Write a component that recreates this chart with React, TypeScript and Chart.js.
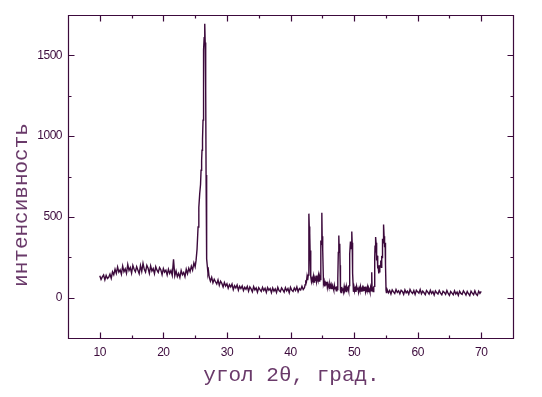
import { useEffect, useRef } from 'react';
import { Chart, registerables } from 'chart.js';

Chart.register(...registerables);

// ---- data ----
const xTickValues = [10, 20, 30, 40, 50, 60, 70];
const yTickValues = [0, 500, 1000, 1500];
const xMinorValues = [15, 25, 35, 45, 55, 65];
const yMinorValues = [250, 750, 1250];
const xTitle = 'угол 2θ, град.';
const yTitle = 'интенсивность';

const scanStep = 0.2;

// amorphous hump, 10.0° … 25.0°
const humpStart = 10.0;
const humpCounts = [
  135, 112, 128, 140, 110, 138, 118, 126, 146, 120,
  160, 142, 176, 150, 190, 158, 172, 145, 196, 160,
  178, 150, 205, 168, 186, 152, 200, 176, 160, 192,
  170, 148, 198, 162, 212, 175, 158, 200, 182, 150,
  196, 165, 180, 148, 192, 170, 156, 186, 172, 142,
  180, 158, 170, 140, 176, 150, 168, 138, 238, 135,
  165, 130, 150, 124, 168, 142, 156, 130, 176, 148,
  182, 160, 195, 170, 215, 190,
];

// main quartz reflection near 26.6°
const mainPeak: [number, number][] = [
  [25.15, 232], [25.3, 300], [25.46, 437], [25.58, 560], [25.72, 645],
  [25.85, 700], [25.93, 789], [26.02, 850], [26.08, 913], [26.16, 980],
  [26.24, 1099], [26.3, 1250], [26.35, 1534], [26.42, 1610], [26.51, 1696],
  [26.58, 1580], [26.66, 1286], [26.72, 760], [26.77, 354], [26.85, 240],
  [26.93, 188], [27.02, 150], [27.1, 165], [27.2, 128],
];

// background tail, 27.4° … 42.2°
const tailStart = 27.4;
const tailCounts = [
  102, 126, 92, 114, 98, 84, 110, 76, 102, 88,
  66, 94, 72, 86, 58, 80, 66, 84, 50, 74,
  60, 78, 46, 70, 56, 72, 44, 64, 52, 70,
  40, 66, 54, 36, 68, 48, 60, 34, 62, 50,
  38, 64, 44, 58, 32, 62, 46, 56, 30, 60,
  40, 54, 32, 64, 44, 36, 60, 48, 34, 62,
  42, 56, 30, 64, 46, 38, 60, 44, 66, 36,
  56, 48, 70, 50, 62,
];

// reflections 42.3° … 55.1°
const peakGroup: [number, number][] = [
  [42.3, 80], [42.4, 100], [42.5, 96], [42.6, 132], [42.7, 108], [42.8, 140],
  [42.89, 520], [42.95, 440], [43.0, 300], [43.05, 400], [43.1, 250], [43.15, 292],
  [43.22, 130], [43.3, 98], [43.4, 118], [43.5, 104], [43.6, 132], [43.7, 96],
  [43.8, 120], [43.9, 108], [44.0, 136], [44.1, 98], [44.2, 124], [44.3, 110],
  [44.4, 138], [44.5, 102], [44.6, 128], [44.7, 112], [44.77, 354], [44.85, 330],
  [44.93, 526], [44.98, 380], [45.03, 312], [45.1, 300], [45.19, 85], [45.3, 102],
  [45.4, 70], [45.5, 92], [45.6, 80], [45.7, 98], [45.8, 62], [45.9, 86],
  [46.0, 70], [46.1, 58], [46.2, 84], [46.3, 66], [46.4, 80], [46.5, 52],
  [46.6, 74], [46.7, 60], [46.8, 46], [46.9, 76], [47.0, 54], [47.1, 68],
  [47.2, 42], [47.3, 70], [47.4, 50], [47.44, 116], [47.52, 280], [47.6, 385],
  [47.66, 290], [47.75, 333], [47.8, 200], [47.86, 43], [47.95, 32], [48.05, 66],
  [48.15, 44], [48.25, 58], [48.35, 36], [48.45, 70], [48.55, 48], [48.65, 62],
  [48.75, 38], [48.85, 66], [48.95, 50], [49.05, 60], [49.15, 42], [49.22, 74],
  [49.27, 178], [49.35, 270], [49.43, 348], [49.5, 300], [49.57, 330], [49.64, 410],
  [49.7, 340], [49.74, 323], [49.8, 150], [49.9, 36], [50.0, 66], [50.1, 44],
  [50.2, 58], [50.3, 36], [50.4, 70], [50.5, 50], [50.6, 62], [50.7, 34],
  [50.8, 58], [50.9, 44], [51.0, 68], [51.1, 40], [51.2, 54], [51.3, 64],
  [51.4, 38], [51.5, 60], [51.6, 46], [51.7, 68], [51.8, 36], [51.9, 56],
  [52.0, 44], [52.1, 66], [52.2, 38], [52.3, 60], [52.4, 50], [52.5, 34],
  [52.6, 64], [52.7, 42], [52.78, 157], [52.84, 44], [52.9, 64], [53.0, 38],
  [53.1, 66], [53.19, 70], [53.25, 250], [53.3, 323], [53.36, 280], [53.42, 375],
  [53.46, 340], [53.52, 300], [53.58, 230], [53.64, 260], [53.72, 180], [53.78, 200],
  [53.85, 150], [53.92, 175], [53.98, 160], [54.05, 190], [54.12, 200], [54.2, 230],
  [54.29, 188], [54.35, 250], [54.4, 248], [54.45, 330], [54.5, 365], [54.56, 340],
  [54.62, 400], [54.66, 453], [54.72, 380], [54.78, 320], [54.82, 312], [54.88, 340],
  [54.92, 273], [54.97, 200], [55.03, 45], [55.1, 28],
];

// high-angle background, 55.2° … 70.0°
const highStart = 55.2;
const highCounts = [
  50, 30, 44, 22, 48, 36, 26, 50, 32, 42,
  24, 46, 38, 20, 48, 30, 40, 22, 50, 34,
  26, 44, 20, 46, 36, 28, 50, 24, 40, 30,
  18, 44, 34, 22, 46, 26, 38, 16, 42, 30,
  22, 44, 28, 18, 40, 32, 20, 44, 26, 14,
  38, 28, 18, 42, 22, 34, 14, 40, 26, 20,
  42, 30, 16, 38, 24, 12, 40, 28, 18, 42,
  22, 14, 40, 26, 38,
];

const INK = '#3c0a3c';
const TITLE_INK = '#6a3a6a';

function buildSeries() {
  const pts: { x: number; y: number }[] = [];
  const addStep = (start: number, counts: number[]) =>
    counts.forEach((c, i) => pts.push({ x: +(start + i * scanStep).toFixed(2), y: c }));
  const addPairs = (pairs: [number, number][]) => pairs.forEach(([x, y]) => pts.push({ x, y }));
  addStep(humpStart, humpCounts);
  addPairs(mainPeak);
  addStep(tailStart, tailCounts);
  addPairs(peakGroup);
  addStep(highStart, highCounts);
  pts.sort((a, b) => a.x - b.x);
  return pts;
}

const framePlugin = {
  id: 'frameTicks',
  beforeDraw(chart: any) {
    // narrow the tick-label lettering a little, like the original plotter font
    chart.ctx.letterSpacing = '-0.5px';
  },
  afterDatasetsDraw(chart: any) {
    const { ctx, chartArea: a, scales } = chart;
    const xs = scales.x;
    const ys = scales.y;
    const L = Math.round(a.left) + 0.5;
    const R = Math.round(a.right) + 0.5;
    const T = Math.round(a.top) + 0.5;
    const B = Math.round(a.bottom) + 0.5;
    ctx.save();
    ctx.strokeStyle = INK;
    ctx.lineWidth = 1.2;
    ctx.beginPath();
    ctx.rect(L, T, R - L, B - T);
    const major = 6;
    const minor = 3;
    const xt = (v: number, len: number) => {
      const p = Math.round(xs.getPixelForValue(v)) + 0.5;
      ctx.moveTo(p, B); ctx.lineTo(p, B - len);
      ctx.moveTo(p, T); ctx.lineTo(p, T + len);
    };
    const yt = (v: number, len: number) => {
      const p = Math.round(ys.getPixelForValue(v)) + 0.5;
      ctx.moveTo(L, p); ctx.lineTo(L + len, p);
      ctx.moveTo(R, p); ctx.lineTo(R - len, p);
    };
    xTickValues.forEach((v) => xt(v, major));
    xMinorValues.forEach((v) => xt(v, minor));
    yTickValues.forEach((v) => yt(v, major));
    yMinorValues.forEach((v) => yt(v, minor));
    ctx.stroke();

    // axis titles
    ctx.letterSpacing = '0px';
    ctx.fillStyle = TITLE_INK;
    ctx.font = '21px "Liberation Mono", "DejaVu Sans Mono", monospace';
    ctx.textAlign = 'center';
    ctx.textBaseline = 'middle';
    ctx.fillText(xTitle, (a.left + a.right) / 2 + 1, 375);
    ctx.translate(21, 205);
    ctx.rotate(-Math.PI / 2);
    ctx.fillText(yTitle, 0, 0);
    ctx.restore();
  },
};

export default function App() {
  const ref = useRef<HTMLCanvasElement>(null);
  useEffect(() => {
    if (!ref.current) return;
    const tickFont = { family: '"Liberation Sans", Arial, sans-serif', size: 12 };
    const chart = new Chart(ref.current, {
      type: 'line',
      data: {
        datasets: [
          {
            data: buildSeries(),
            borderColor: INK,
            borderWidth: 1.4,
            pointRadius: 0,
            tension: 0,
            fill: false,
          },
        ],
      },
      options: {
        animation: false,
        responsive: false,
        events: [],
        layout: { padding: { top: 15, right: 29, left: 0, bottom: 0 } },
        plugins: { legend: { display: false }, tooltip: { enabled: false } },
        scales: {
          x: {
            type: 'linear',
            min: 5,
            max: 75,
            grid: { display: false, drawTicks: false },
            border: { display: false },
            afterBuildTicks: (s: any) => {
              s.ticks = xTickValues.map((v) => ({ value: v }));
            },
            afterFit: (s: any) => {
              s.height = 59;
            },
            ticks: {
              color: INK,
              font: tickFont,
              padding: 7,
              maxRotation: 0,
              autoSkip: false,
              callback: (v: any) => String(v),
            },
          },
          y: {
            type: 'linear',
            min: -250,
            max: 1750,
            grid: { display: false, drawTicks: false },
            border: { display: false },
            afterBuildTicks: (s: any) => {
              s.ticks = yTickValues.map((v) => ({ value: v }));
            },
            afterFit: (s: any) => {
              s.width = 68;
            },
            ticks: {
              color: INK,
              font: tickFont,
              padding: 6,
              autoSkip: false,
              callback: (v: any) => String(v),
            },
          },
        },
      },
      plugins: [framePlugin],
    });
    return () => chart.destroy();
  }, []);
  return (
    <div style={{ position: 'absolute', left: 0, top: 0, width: 542, height: 397, background: '#fff' }}>
      <canvas ref={ref} width={542} height={397} style={{ display: 'block' }} />
    </div>
  );
}
